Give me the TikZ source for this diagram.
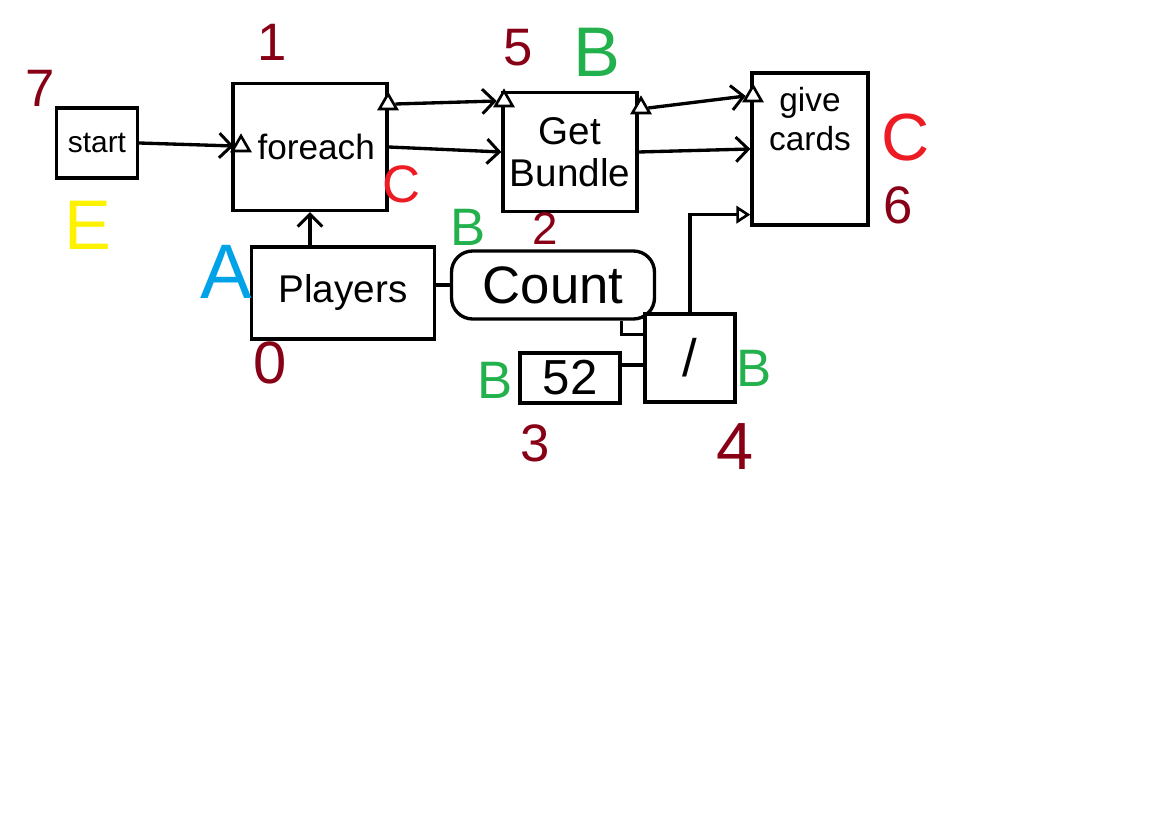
\documentclass[tikz,border=0pt]{standalone}
\usepackage{fontspec}
\setmainfont{Liberation Sans}
\usetikzlibrary{arrows.meta,shapes.geometric,calc}
\definecolor{dred}{RGB}{136,0,21}
\definecolor{pred}{RGB}{237,28,36}
\definecolor{pgreen}{RGB}{34,177,76}
\definecolor{pyellow}{RGB}{255,242,0}
\definecolor{pblue}{RGB}{0,162,232}
\tikzset{
  box/.style={draw, line width=1.9pt, inner sep=2pt},
  port/.style={draw, line width=1.5pt, regular polygon, regular polygon sides=3, minimum size=0.4cm, inner sep=0pt, fill=white},
  conn/.style={line width=1.9pt},
  arr/.style={conn, -{Straight Barb[length=7pt,width=14pt,line width=1.7pt]}},
  tarr/.style={conn, -{Triangle[open,length=8pt,width=10pt,line width=1.5pt]}},
  lbl/.style={font=\fontsize{30}{30}\selectfont},
  boxtext/.style={font=\fontsize{22}{24}\selectfont}
}
\begin{document}
\begin{tikzpicture}[x=0.02cm,y=-0.02cm]
\useasboundingbox (0,0) rectangle (1152,820);
% boxes
\node[box, font=\fontsize{17}{18}\selectfont, minimum width=1.62cm, minimum height=1.4cm] (start) at (97,143) {start};
\node[box, font=\fontsize{20}{22}\selectfont, minimum width=3.08cm, minimum height=2.54cm] (foreach) at (310,147) {\hspace{0.25cm}foreach};
\node[box, boxtext, align=center, minimum width=2.68cm, minimum height=2.38cm] (bundle) at (570,152) {Get\\Bundle};
\node[box, minimum width=2.32cm, minimum height=3.04cm,
      label={[anchor=north, yshift=-0.2cm, align=center, font=\fontsize{19}{22}\selectfont]north:give\\cards}] (give) at (810,149) {};
\node[box, boxtext, minimum width=3.66cm, minimum height=1.84cm] (players) at (343,293) {Players};
\node[box, rounded corners=12pt, font=\fontsize{30}{30}\selectfont, minimum width=4.06cm, minimum height=1.36cm] (count) at (553,285) {Count};
\node[box, font=\fontsize{28}{30}\selectfont, minimum width=2.0cm, minimum height=1.0cm] (n52) at (570,378) {52};
\node[box, font=\fontsize{30}{30}\selectfont, minimum width=1.8cm, minimum height=1.76cm] (divide) at (690,358) {/};
% ports
\node[port] (p1) at (241,146) {};
\node[port] (p2) at (388,104) {};
\node[port] (p3) at (504,101) {};
\node[port] (p4) at (641,108) {};
\node[port] (p5) at (753,96) {};
% connectors
\draw[arr] (start.east) -- (p1.west);
\draw[arr] (p2.east) -- (p3.west);
\draw[arr] (foreach.east) -- (bundle.west);
\draw[arr] (p4.east) -- (p5.west);
\draw[arr] (bundle.east) -- (give.west);
\draw[arr] (foreach.south |- players.north) -- (foreach.south);
\draw[conn] (players.east |- count.west) -- (count.west);
\draw[conn] (count.south -| n52.east) |- ($(divide.north west)+(0,22)$);
\draw[conn] ($(n52.east)+(0,-13)$) -- ($(n52.east -| divide.west)+(0,-13)$);
\draw[tarr] (divide.north) |- ($(give.south west)+(0,-12)$);
% labels
\node[lbl, text=dred] (m7) at (40,88) {7};
\node[lbl, text=dred] (m1) at (272,42) {1};
\node[lbl, text=dred] (m5) at (518,48) {5};
\node[lbl, text=pgreen, font=\fontsize{40}{40}\selectfont] (mB1) at (597,52) {B};
\node[lbl, text=pred] (mC1) at (402,184) {C};
\node[lbl, text=pred, font=\fontsize{38}{38}\selectfont] (mC2) at (906,138) {C};
\node[lbl, text=dred] (m6) at (898,205) {6};
\node[lbl, text=pyellow, font=\fontsize{40}{40}\selectfont] (mE) at (88,225) {E};
\node[lbl, text=pblue, font=\fontsize{44}{44}\selectfont] (mA) at (226,272) {A};
\node[lbl, text=dred, font=\fontsize{34}{34}\selectfont] (m0) at (270,363) {0};
\node[lbl, text=pgreen] (mB2) at (468,227) {B};
\node[lbl, text=dred, font=\fontsize{26}{26}\selectfont] (m2) at (545,229) {2};
\node[lbl, text=pgreen] (mB3) at (495,380) {B};
\node[lbl, text=dred] (m3) at (535,443) {3};
\node[lbl, text=dred, font=\fontsize{38}{38}\selectfont] (m4) at (735,447) {4};
\node[lbl, text=pgreen] (mB4) at (754,368) {B};
\end{tikzpicture}
\end{document}
